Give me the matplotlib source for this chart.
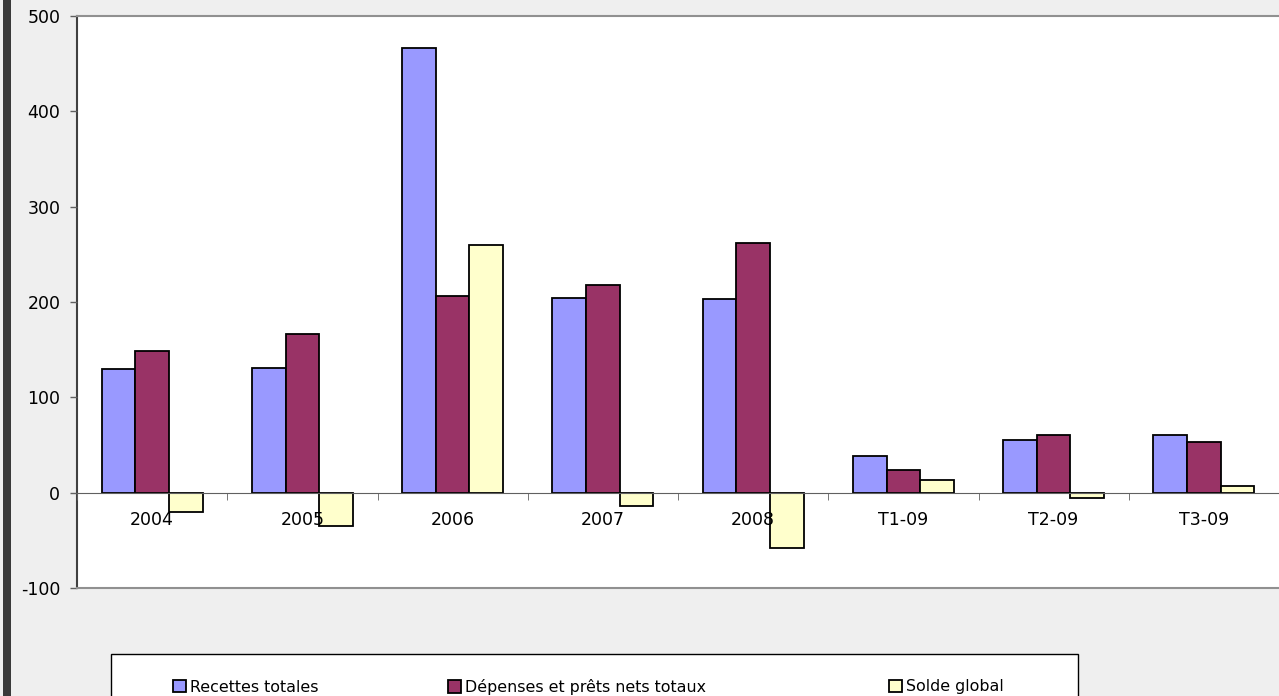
import numpy as np
import matplotlib
matplotlib.use("Agg")
import matplotlib.pyplot as plt
from matplotlib.patches import Rectangle, Patch

plt.rcParams['font.family'] = ['DejaVu Sans']
plt.rcParams['axes.unicode_minus'] = False

categories = ["2004", "2005", "2006", "2007", "2008", "T1-09", "T2-09", "T3-09"]
recettes = [130, 131, 466, 204, 203, 38, 55, 61]
depenses = [149, 166, 206, 218, 262, 24, 61, 53]
solde = [-20, -35, 260, -14, -58, 13, -6, 7]
series_names = ["Recettes totales", "Dépenses et prêts nets totaux", "Solde global"]
colors = ["#9999FF", "#993366", "#FFFFCC"]

W, H = 1279, 696
fig = plt.figure(figsize=(W / 100, H / 100), dpi=100)
fig.patch.set_facecolor("#efefef")
# dark band on the left edge
fig.patches.append(Rectangle((3 / W, 0), 8 / W, 1, transform=fig.transFigure,
                             facecolor="#3a3a3a", edgecolor="none", zorder=0))

ax = fig.add_axes([77 / W, 108 / H, 1202 / W, 572 / H])
ax.set_facecolor("white")
ax.set_axisbelow(False)

x = np.arange(len(categories))
w = 0.2237
for k, (vals, c) in enumerate(zip([recettes, depenses, solde], colors)):
    ax.bar(x + (k - 1) * w, vals, w, color=c, edgecolor="black",
           linewidth=1.3, zorder=1)

ax.set_ylim(-100, 500)
ax.set_xlim(-0.5, -0.5 + 1202 / 152)
ax.set_yticks(range(-100, 501, 100))
ax.tick_params(axis="y", direction="out", length=5, width=1, color="#606060",
               labelsize=12.5, pad=7)

# category axis sits on zero
ax.spines["bottom"].set_position(("data", 0))
ax.spines["bottom"].set_color("#606060")
ax.spines["left"].set_color("#404040")
ax.spines["left"].set_linewidth(1.5)
ax.spines["top"].set_visible(False)
ax.spines["right"].set_visible(False)
ax.set_xticks(x)
ax.set_xticklabels(categories)
ax.set_xticks(np.arange(-0.5, len(categories), 1), minor=True)
ax.tick_params(axis="x", which="major", length=0, labelsize=12.5, pad=13)
ax.tick_params(axis="x", which="minor", direction="out", length=5, color="#606060")
ax.axhline(500, color="#909090", lw=1.5, clip_on=False, zorder=4)
ax.axhline(-100, color="#909090", lw=1.5, clip_on=False, zorder=4)

# legend box
fig.patches.append(Rectangle((111 / W, -0.05), (1078 - 111) / W, 0.05 + (696 - 654) / H,
                             transform=fig.transFigure, facecolor="white",
                             edgecolor="black", linewidth=1, zorder=1))
marker_x = [173, 448, 889]
for name, c, mx in zip(series_names, colors, marker_x):
    leg = fig.legend([Patch(facecolor=c, edgecolor="black", linewidth=1.3)], [name],
                     loc="center left", bbox_to_anchor=(mx / W, (696 - 687) / H),
                     frameon=False, fontsize=11.4, handlelength=0.82, handleheight=0.82,
                     handletextpad=0.25, borderaxespad=0, borderpad=0)
    leg.set_zorder(2)

fig.savefig("out.png", dpi=100, facecolor=fig.get_facecolor())
